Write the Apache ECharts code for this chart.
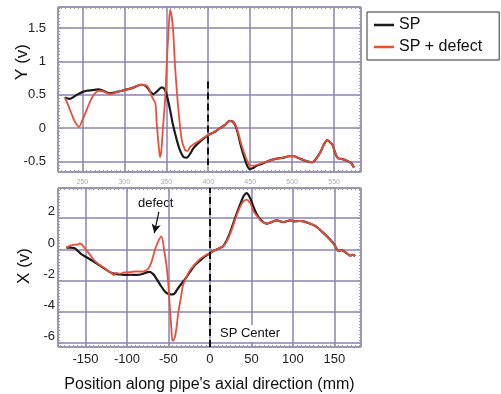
<!DOCTYPE html>
<html>
<head>
<meta charset="utf-8">
<script src="https://cdn.jsdelivr.net/npm/echarts@6/dist/echarts.min.js"></script>
<style>
html,body{margin:0;padding:0;background:#fff;}
#c{width:501px;height:394px;}
</style>
</head>
<body>
<div id="c"></div>
<script>
// Top panel: Y component vs position (top axis scale 221..582)
const spY = [[229,0.46],[235,0.44],[240,0.47],[245,0.51],[250,0.54],[255,0.56],[262,0.57],[269,0.58],[275,0.56],[283,0.52],[290,0.54],[297,0.56],[309,0.60],[320,0.65],[326,0.63],[330.7,0.55],[334.6,0.51],[339,0.55],[344.6,0.61],[348.6,0.57],[351.5,0.45],[354.6,0.27],[358,0.05],[362.6,-0.18],[366,-0.32],[370.5,-0.43],[374.5,-0.44],[378.5,-0.38],[382.4,-0.30],[386,-0.25],[390.4,-0.20],[395,-0.15],[400.4,-0.10],[407,-0.06],[414,0.00],[420,0.05],[425.5,0.11],[429,0.10],[432,0.05],[435,-0.06],[438,-0.22],[442,-0.40],[446,-0.55],[449,-0.61],[453,-0.60],[458,-0.56],[465,-0.53],[470,-0.50],[480,-0.46],[490,-0.44],[496,-0.42],[502,-0.42],[508,-0.45],[514,-0.48],[519,-0.50],[524,-0.51],[529,-0.45],[534,-0.35],[538,-0.24],[542,-0.18],[545,-0.21],[548,-0.25],[551,-0.36],[554.5,-0.45],[559,-0.46],[564,-0.48],[570,-0.52],[573.6,-0.59]];
const defY = [[229,0.46],[233,0.35],[237,0.22],[241,0.10],[246,0.02],[250,0.12],[255,0.27],[260,0.42],[265,0.52],[270,0.56],[275,0.55],[283,0.51],[290,0.54],[297,0.56],[309,0.60],[320,0.65],[326,0.64],[329,0.60],[333,0.47],[337,0.37],[338.6,0.07],[341.5,-0.33],[342.6,-0.43],[344,-0.35],[346,0.00],[348.6,0.42],[350.5,0.95],[352.5,1.42],[354.6,1.77],[357.8,1.52],[360.5,0.92],[364.5,0.27],[368.5,-0.18],[372.5,-0.33],[375,-0.34],[378.5,-0.28],[384,-0.23],[390.4,-0.18],[395,-0.14],[400.4,-0.10],[407,-0.06],[414,0.00],[420,0.05],[425.5,0.11],[429,0.10],[432,0.06],[435,-0.04],[438,-0.18],[442,-0.34],[446,-0.48],[450,-0.56],[455,-0.56],[460,-0.54],[465,-0.52],[470,-0.50],[480,-0.46],[490,-0.44],[496,-0.42],[502,-0.42],[508,-0.45],[514,-0.48],[519,-0.50],[524,-0.51],[529,-0.45],[534,-0.35],[538,-0.24],[542,-0.18],[545,-0.21],[548,-0.25],[551,-0.36],[554.5,-0.45],[559,-0.46],[564,-0.48],[570,-0.52],[573.6,-0.59]];

// Bottom panel: X component vs position along pipe's axis (mm)
const spX = [[-173,0.11],[-168,0.12],[-163,0.07],[-159,-0.10],[-155,-0.30],[-147,-0.55],[-139,-0.81],[-133,-1.02],[-127,-1.22],[-122,-1.40],[-117,-1.53],[-110,-1.60],[-103,-1.63],[-96,-1.62],[-88.5,-1.63],[-80,-1.55],[-75,-1.45],[-72.5,-1.43],[-69,-1.55],[-66,-1.74],[-60,-2.25],[-54,-2.70],[-48.3,-2.87],[-45,-2.88],[-42.3,-2.80],[-38,-2.45],[-32,-2.05],[-28,-1.75],[-24,-1.43],[-18,-1.00],[-12,-0.71],[-6,-0.45],[0,-0.24],[4,-0.10],[8,0.00],[12,0.10],[16,0.21],[20,0.55],[24,1.05],[28,1.65],[33,2.40],[38,3.09],[41,3.45],[44.3,3.60],[48.3,3.30],[52.3,2.75],[56.4,2.25],[62,1.85],[68.5,1.65],[74,1.75],[80.5,1.86],[88.5,1.75],[96.6,1.86],[102,1.80],[108.7,1.82],[114,1.78],[120.8,1.65],[127,1.50],[132.9,1.24],[139,0.95],[145,0.62],[150,0.30],[155,-0.10],[158,-0.05],[160.9,-0.10],[165,-0.25],[169,-0.40],[172,-0.35],[175,-0.42]];
const defX = [[-173,0.11],[-168,0.25],[-163,0.31],[-160,0.30],[-157,0.38],[-154,0.30],[-151,0.11],[-145,-0.30],[-139,-0.71],[-133,-0.98],[-127,-1.20],[-122,-1.40],[-118,-1.50],[-116,-1.65],[-113,-1.50],[-108,-1.55],[-103,-1.47],[-96,-1.45],[-88.5,-1.40],[-82,-1.42],[-78.5,-1.39],[-74,-1.20],[-70.4,-0.81],[-66,0.01],[-62,0.55],[-58.4,0.83],[-55,-0.10],[-52.3,-1.02],[-50,-2.30],[-48.3,-3.69],[-46.5,-5.00],[-45,-5.85],[-42.3,-5.64],[-40,-4.90],[-38.3,-4.10],[-35,-3.10],[-32.2,-2.25],[-28,-1.75],[-24,-1.33],[-18,-0.95],[-12,-0.61],[-6,-0.40],[0,-0.24],[4,-0.10],[8,0.00],[12,0.10],[16,0.21],[20,0.50],[24,0.95],[28,1.55],[33,2.30],[38,2.90],[41,3.10],[44.3,3.19],[48.3,2.99],[52.3,2.47],[56.4,2.16],[62,1.80],[68.5,1.65],[74,1.75],[80.5,1.86],[88.5,1.75],[96.6,1.86],[102,1.80],[108.7,1.82],[114,1.78],[120.8,1.65],[127,1.50],[132.9,1.24],[139,0.95],[145,0.62],[150,0.30],[155,-0.10],[158,-0.05],[160.9,-0.10],[165,-0.25],[169,-0.40],[172,-0.35],[175,-0.42]];

const seriesNames = ['SP', 'SP + defect'];
const seriesColors = ['#1a1a1a', '#e8503a'];
const topRange = [221, 582];
const topYRange = [-0.656, 1.814];
const botRange = [-183, 182];
const botYRange = [-6.24, 3.93];
const yTitles = ['Y (v)', 'X (v)'];
const xTitle = "Position along pipe's axial direction (mm)";

const gridColor = '#8c82b3';
const tickColor = '#9a9a9a';
const FONT = 'Liberation Sans, Arial, sans-serif';

function isMult(v, step){ const r = v/step; return Math.abs(r - Math.round(r)) < 1e-6; }
function fmtMult(step){ return function(v){ return isMult(v, step) ? String(+v.toFixed(2)) : ''; }; }

function baseX(grid, range, pos, extra){
  return Object.assign({
    type:'value', gridIndex:grid, min:range[0], max:range[1], splitNumber:7, position:pos,
    axisLine:{show:false, onZero:false},
    axisTick:{show:true, inside:true, length:4, lineStyle:{color:tickColor}},
    minorTick:{show:true, splitNumber:10, length:2, lineStyle:{color:tickColor}},
    splitLine:{show:false},
    axisLabel:{show:false}
  }, extra||{});
}
function baseY(grid, range, pos, step, extra){
  return Object.assign({
    type:'value', gridIndex:grid, min:range[0], max:range[1], splitNumber:5, position:pos,
    axisLine:{show:false, onZero:false},
    axisTick:{show:true, inside:true, length:4, lineStyle:{color:tickColor}},
    minorTick:{show:true, splitNumber:10, length:2, lineStyle:{color:tickColor}},
    splitLine:{show:false},
    axisLabel:{show:false}
  }, extra||{});
}

const chart = echarts.init(document.getElementById('c'), null, {renderer:'canvas'});
const option = {
  animation:false,
  backgroundColor:'#fff',
  textStyle:{fontFamily:FONT},
  grid:[
    {left:58, top:7, width:303, height:165, show:true, borderColor:'#a0a0a0', borderWidth:1, backgroundColor:'transparent'},
    {left:58, top:188, width:303, height:165, show:true, borderColor:'#a0a0a0', borderWidth:1, backgroundColor:'transparent'}
  ],
  legend:{
    orient:'vertical', left:367, top:12,
    data:seriesNames.map(function(n, i){ return {name:n, icon:'rect', itemStyle:{color:seriesColors[i]}}; }),
    borderColor:'#333', borderWidth:1, padding:[5,17,5,7],
    itemWidth:20, itemHeight:2.5, itemGap:6,
    textStyle:{fontSize:16, lineHeight:16, color:'#111', fontFamily:FONT}
  },
  xAxis:[
    baseX(0, topRange, 'bottom', {
      splitLine:{show:true, lineStyle:{color:gridColor, width:1.5}},
      axisLabel:{show:true, fontSize:7, color:'#aaa', margin:7, formatter:fmtMult(50)}
    }),
    baseX(1, botRange, 'bottom', {
      splitLine:{show:true, lineStyle:{color:gridColor, width:1.5}},
      axisLabel:{show:true, fontSize:13, color:'#222', margin:6, formatter:fmtMult(50)},
      name:xTitle, nameLocation:'middle', nameGap:30,
      nameTextStyle:{fontSize:16, color:'#111', fontFamily:FONT}
    }),
    baseX(0, topRange, 'top'),
    baseX(1, botRange, 'top')
  ],
  yAxis:[
    baseY(0, topYRange, 'left', 0.5, {
      splitLine:{show:true, lineStyle:{color:gridColor, width:1.5}},
      axisLabel:{show:true, fontSize:13, color:'#222', margin:12, formatter:fmtMult(0.5)}
    }),
    baseY(1, botYRange, 'left', 2, {
      splitLine:{show:true, lineStyle:{color:gridColor, width:1.5}},
      axisLabel:{show:true, fontSize:13, color:'#222', margin:3, verticalAlign:'bottom', formatter:fmtMult(2)}
    }),
    baseY(0, topYRange, 'right', 0.5),
    baseY(1, botYRange, 'right', 2)
  ],
  series:[
    {name:seriesNames[0], type:'line', xAxisIndex:0, yAxisIndex:0, data:spY, symbol:'none', smooth:0.3,
     lineStyle:{color:seriesColors[0], width:2.2}, itemStyle:{color:seriesColors[0]}, z:3,
     markLine:{silent:true, symbol:['none','none'], label:{show:false},
       lineStyle:{color:'#111', type:[7,4], width:2},
       data:[[{coord:[400,0.7]},{coord:[400,-0.55]}]]}},
    {name:seriesNames[1], type:'line', xAxisIndex:0, yAxisIndex:0, data:defY, symbol:'none', smooth:0.3,
     lineStyle:{color:seriesColors[1], width:1.8}, itemStyle:{color:seriesColors[1]}, z:4},
    {name:seriesNames[0], type:'line', xAxisIndex:1, yAxisIndex:1, data:spX, symbol:'none', smooth:0.3,
     lineStyle:{color:seriesColors[0], width:2.2}, itemStyle:{color:seriesColors[0]}, z:3,
     markLine:{silent:true, symbol:['none','none'], label:{show:false},
       lineStyle:{color:'#111', type:[7,4], width:2},
       data:[{xAxis:0}]}},
    {name:seriesNames[1], type:'line', xAxisIndex:1, yAxisIndex:1, data:defX, symbol:'none', smooth:0.3,
     lineStyle:{color:seriesColors[1], width:1.8}, itemStyle:{color:seriesColors[1]}, z:4,
     markLine:{silent:true, symbol:['none','arrow'], symbolSize:[7,9], label:{show:false},
       lineStyle:{color:'#111', type:'solid', width:1.2},
       data:[[{coord:[-61.5,2.4]},{coord:[-67,1.05]}]]}}
  ],
  graphic:[
    {type:'text', left:14, top:44, rotation:Math.PI/2, style:{text:yTitles[0], fontSize:17, fill:'#111', fontFamily:FONT}},
    {type:'text', left:16, top:248, rotation:Math.PI/2, style:{text:yTitles[1], fontSize:17, fill:'#111', fontFamily:FONT}},
    {type:'text', left:138, top:197, style:{text:'defect', fontSize:13, fill:'#111', fontFamily:FONT}},
    {type:'text', left:217, top:325, z:10, style:{text:'SP Center', fontSize:13, fill:'#111', fontFamily:FONT, backgroundColor:'#fff', padding:[2,3,2,3]}}
  ]
};
chart.setOption(option);
</script>
</body>
</html>
